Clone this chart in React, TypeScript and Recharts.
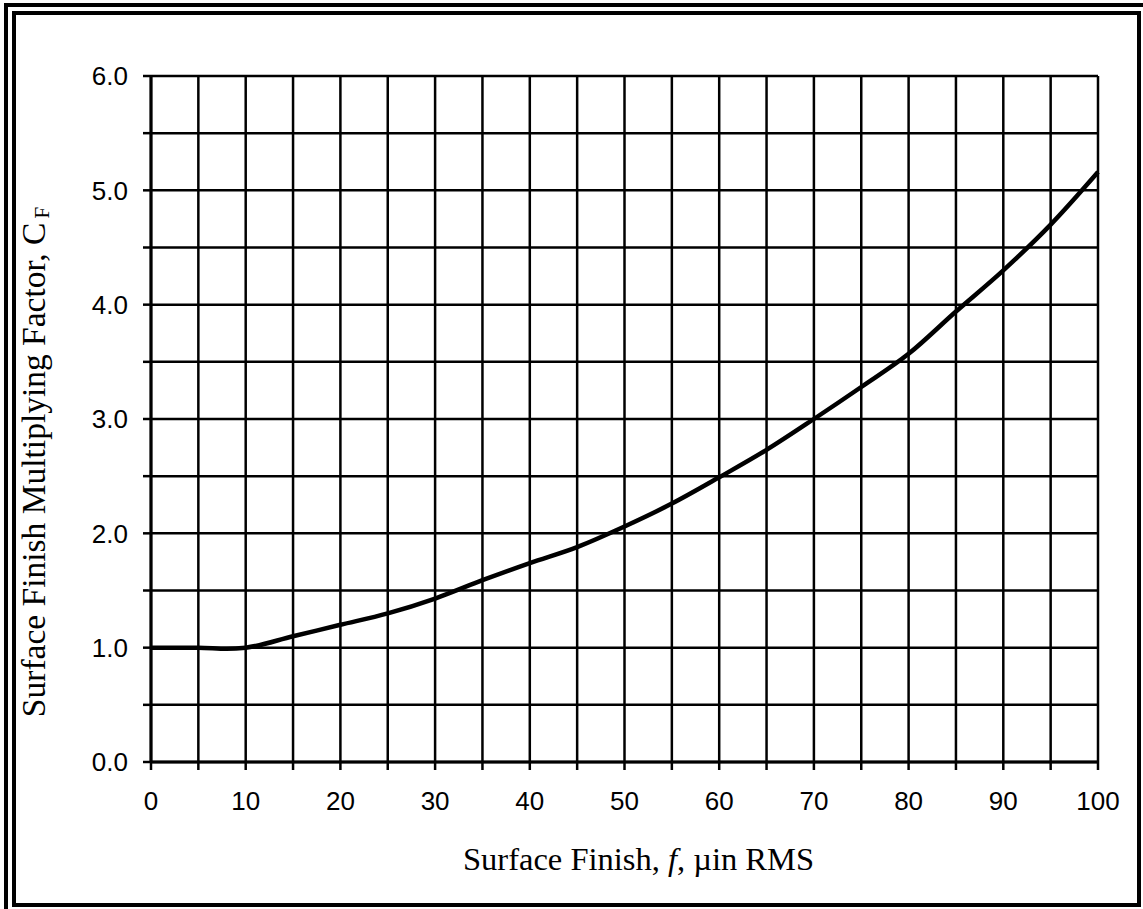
import React from 'react';
import { LineChart, Line, XAxis, YAxis, CartesianGrid } from 'recharts';

// surface finish f (µin RMS) vs multiplying factor C_F
const finishValues = [0, 5, 8, 10, 15, 20, 25, 30, 35, 40, 45, 50, 55, 60, 65, 70, 75, 80, 85, 90, 95, 100];
const factorValues = [1.0, 1.0, 0.99, 1.0, 1.1, 1.2, 1.3, 1.43, 1.59, 1.74, 1.88, 2.06, 2.26, 2.49, 2.73, 3.0, 3.28, 3.57, 3.94, 4.3, 4.7, 5.16];

const xTicks = [0, 5, 10, 15, 20, 25, 30, 35, 40, 45, 50, 55, 60, 65, 70, 75, 80, 85, 90, 95, 100];
const yTicks = [0, 0.5, 1, 1.5, 2, 2.5, 3, 3.5, 4, 4.5, 5, 5.5, 6];

const data = finishValues.map((f, i) => ({ f, cf: factorValues[i] }));

const tickFont = { fill: '#000', fontSize: 26, fontFamily: '"Liberation Sans", Arial, sans-serif' };
const titleFont = '"Liberation Serif", "Times New Roman", serif';

const XTitle = (props: any) => {
  const { viewBox } = props;
  const cx = viewBox.x + viewBox.width / 2 + 14;
  return (
    <text x={cx} y={870} textAnchor="middle" fontFamily={titleFont} fontSize={32.5} fill="#000">
      Surface Finish, <tspan fontStyle="italic">f</tspan>, µin RMS
    </text>
  );
};

const YTitle = (props: any) => {
  const { viewBox } = props;
  const cy = viewBox.y + viewBox.height / 2 + 43;
  const bx = 45;
  return (
    <text
      x={bx}
      y={cy}
      transform={`rotate(-90, ${bx}, ${cy})`}
      textAnchor="middle"
      fontFamily={titleFont}
      fontSize={33.5}
      fill="#000"
    >
      Surface Finish Multiplying Factor, C
      <tspan fontSize={21} dy={4} dx={4}>F</tspan>
    </text>
  );
};

export default function App() {
  return (
    <div style={{ position: 'absolute', left: 0, top: 0, width: 1143, height: 909, background: '#fff', overflow: 'hidden' }}>
      <div style={{ position: 'absolute', left: 4, top: 3, width: 1200, height: 1000, border: '4px solid #000', boxSizing: 'border-box' }} />
      <div style={{ position: 'absolute', left: 12, top: 11, width: 1129, height: 896, border: '4px solid #000', boxSizing: 'border-box' }} />
      <div style={{ position: 'absolute', left: 0, top: 0 }}>
        <LineChart width={1143} height={909} data={data} margin={{ top: 76, right: 45, bottom: 0, left: 0 }}>
          <CartesianGrid stroke="#000" strokeWidth={2.5} />
          <XAxis
            type="number"
            dataKey="f"
            domain={[0, 100]}
            ticks={xTicks}
            interval={0}
            height={147}
            tickSize={8}
            tickMargin={22}
            tick={tickFont}
            tickLine={{ stroke: '#000', strokeWidth: 2.5 }}
            axisLine={{ stroke: '#000', strokeWidth: 3 }}
            tickFormatter={(v: number) => (v % 10 === 0 ? String(v) : '')}
            label={<XTitle />}
          />
          <YAxis
            type="number"
            domain={[0, 6]}
            ticks={yTicks}
            interval={0}
            width={151}
            tickSize={8}
            tickMargin={15}
            tick={tickFont}
            tickLine={{ stroke: '#000', strokeWidth: 2.5 }}
            axisLine={{ stroke: '#000', strokeWidth: 3 }}
            tickFormatter={(v: number) => (Number.isInteger(v) ? v.toFixed(1) : '')}
            label={<YTitle />}
          />
          <Line
            type="monotone"
            dataKey="cf"
            stroke="#000"
            strokeWidth={4.5}
            dot={false}
            isAnimationActive={false}
          />
        </LineChart>
      </div>
    </div>
  );
}
